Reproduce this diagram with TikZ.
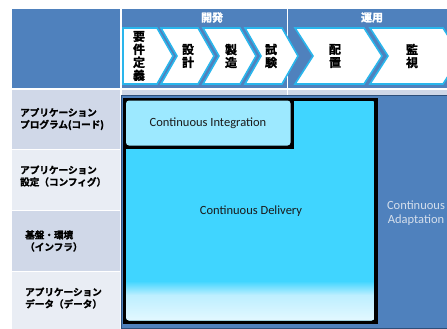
\documentclass[tikz,border=0pt]{standalone}
\usepackage{fontspec}
\setmainfont{Carlito}
\newfontfamily\jp{Noto Sans CJK JP}[BoldFont={Noto Sans CJK JP Bold},BoldFeatures={FakeBold=1.6}]
\definecolor{hdr}{HTML}{4F81BD}
\definecolor{hdrline}{HTML}{2E4F7A}
\definecolor{rowA}{HTML}{D0D8E8}
\definecolor{rowB}{HTML}{E9EDF4}
\definecolor{chevline}{HTML}{2AB6EC}
\definecolor{cdcyan}{HTML}{40D5FF}
\definecolor{cdmid}{HTML}{BDEFFF}
\definecolor{cilight}{HTML}{9DE9FF}
\definecolor{cdpale}{HTML}{E4F8FF}
\definecolor{catext}{HTML}{D5DFEC}
\definecolor{ink}{HTML}{1A1A1A}
\begin{document}
\begin{tikzpicture}[x=1pt,y=-1pt,
  chev/.style={fill=white,draw=chevline,line width=1.6pt,line join=miter},
  vtext/.style={font=\jp\bfseries\fontsize{12}{13}\selectfont,align=center,inner sep=0pt,text=black},
  lbl/.style={font=\jp\bfseries\fontsize{9.6}{12}\selectfont,align=left,anchor=west,inner sep=0pt,text=black},
  htext/.style={font=\jp\bfseries\fontsize{11}{13}\selectfont,inner sep=0pt,text=white},
  entext/.style={font=\fontsize{12.5}{14}\selectfont,inner sep=0pt,align=center}]
\fill[white] (0,0) rectangle (447,329);
\useasboundingbox (0,0) rectangle (447,329);
% header cells
\fill[hdr] (12,9) rectangle (120.3,88);
\fill[hdr] (121.7,9) rectangle (286.8,88);
\fill[hdr] (288.2,9) rectangle (447,88);
% left column rows
\fill[rowA] (12,89.5) rectangle (120.3,148.5);
\fill[rowB] (12,150) rectangle (120.3,209.5);
\fill[rowA] (12,211) rectangle (120.3,270.5);
\fill[rowB] (12,272) rectangle (120.3,329);
% right strip below header
\fill[rowA] (121.7,89.5) rectangle (286.8,100);
\fill[rowA] (288.2,89.5) rectangle (447,100);
% header labels
\node[htext] (dev) at (212,17.5) {開発};
\node[htext] (ops) at (372,17.5) {運用};
% chevrons
\begin{scope}
\clip (0,0) rectangle (447,329);
\draw[chev] (123,28) -- (157,28) -- (173,56) -- (157,84) -- (123,84) -- cycle;
\draw[chev] (161,28) -- (198,28) -- (214,56) -- (198,84) -- (161,84) -- (177,56) -- cycle;
\draw[chev] (203,28) -- (240,28) -- (256,56) -- (240,84) -- (203,84) -- (219,56) -- cycle;
\draw[chev] (245,28) -- (282,28) -- (298,56) -- (282,84) -- (245,84) -- (261,56) -- cycle;
\draw[chev] (295,28) -- (364,28) -- (382,56) -- (364,84) -- (295,84) -- (313,56) -- cycle;
\draw[chev] (370,28) -- (443,28) -- (461,56) -- (443,84) -- (370,84) -- (388,56) -- cycle;
\end{scope}
\node[vtext] (req) at (139,56) {要\\件\\定\\義};
\node[vtext] (des) at (188,56) {設\\計};
\node[vtext] (mfg) at (231,56) {製\\造};
\node[vtext] (tst) at (271,56) {試\\験};
\node[vtext] (dep) at (335,56) {配\\置};
\node[vtext] (mon) at (412,56) {監\\視};
% left labels
\node[lbl] (l1) at (20,119) {アプリケーション\\プログラム(コード)};
\node[lbl] (l2) at (20,176) {アプリケーション\\設定（コンフィグ）};
\node[lbl] (l3) at (25,241) {基盤・環境\\（インフラ）};
\node[lbl] (l4) at (25,298) {アプリケーション\\データ（データ）};
% big blue box
\draw[fill=hdr,draw=hdrline,line width=0.8pt] (121.4,95) rectangle (447.5,328.5);
% continuous delivery
\fill[black] (122.5,97.5) rectangle (377.5,324);
\begin{scope}
\clip[rounded corners=3pt] (126,100.5) rectangle (374.5,320.5);
\fill[cdcyan] (126,100.5) rectangle (374.5,320.5);
\shade[top color=cdcyan,bottom color=cdmid] (126,281) rectangle (374.5,295);
\shade[top color=cdmid,bottom color=cdpale] (126,295) rectangle (374.5,321);
\end{scope}
% continuous integration
\fill[black] (122.5,97.5) rectangle (294,149);
\fill[cilight,rounded corners=3pt] (126,100.5) rectangle (290.5,145.5);
\node[entext,text=ink] (ci) at (208,123) {Continuous Integration};
\node[entext,text=ink] (cd) at (251,211) {Continuous Delivery};
\node[entext,text=catext] (ca) at (416,213) {Continuous\\Adaptation};
\end{tikzpicture}
\end{document}
